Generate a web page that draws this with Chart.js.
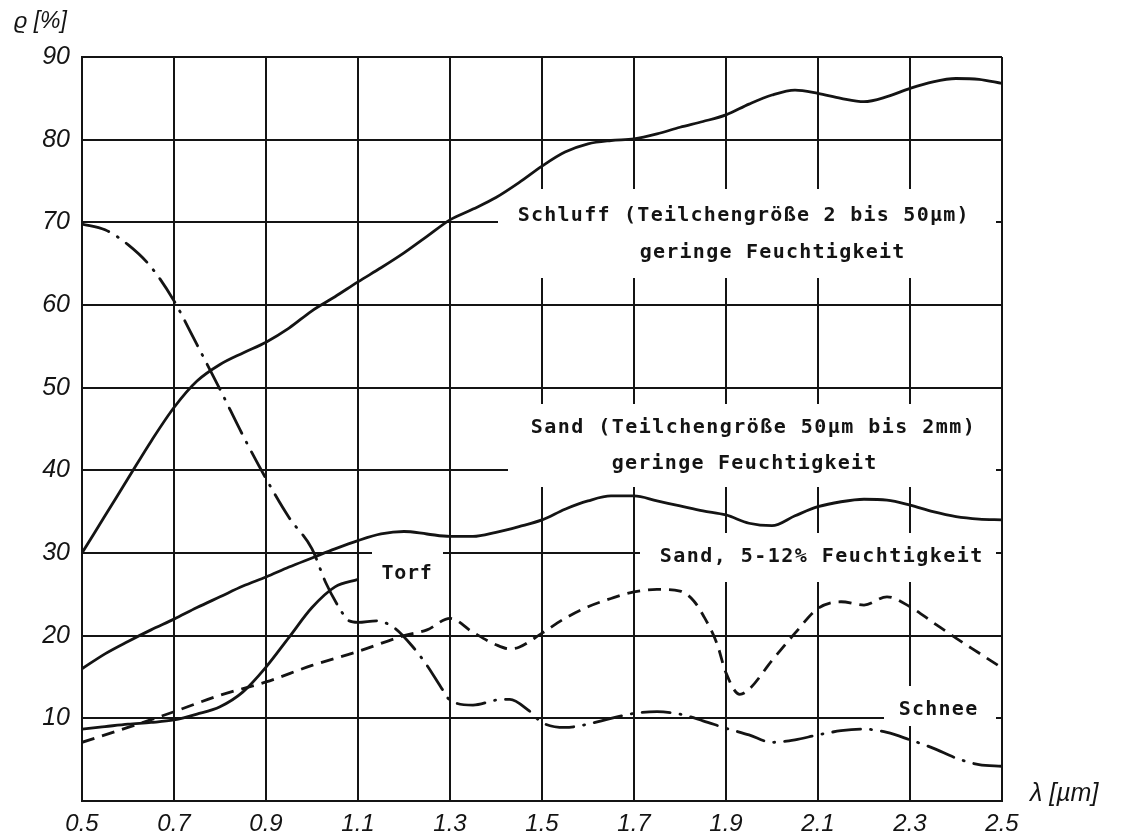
<!DOCTYPE html>
<html>
<head>
<meta charset="utf-8">
<script src="https://cdn.jsdelivr.net/npm/chart.js@4/dist/chart.umd.min.js"></script>
<style>
  html, body { margin: 0; padding: 0; background: #fff; }
  #wrap { width: 1133px; height: 838px; }
</style>
</head>
<body>
<div id="wrap"><canvas id="myChart" width="1133" height="838"></canvas></div>
<script>
// Achsen
const xTicks = [0.5, 0.7, 0.9, 1.1, 1.3, 1.5, 1.7, 1.9, 2.1, 2.3, 2.5];
const yTicks = [0, 10, 20, 30, 40, 50, 60, 70, 80, 90];

// Schluff (Teilchengröße 2 bis 50µm), geringe Feuchtigkeit
const schluffX = [0.5, 0.55, 0.6, 0.65, 0.7, 0.75, 0.8, 0.85, 0.9, 0.95, 1.0, 1.05, 1.1, 1.15, 1.2, 1.25, 1.3, 1.35, 1.4, 1.45, 1.5, 1.55, 1.6, 1.65, 1.7, 1.75, 1.8, 1.85, 1.9, 1.95, 2.0, 2.05, 2.1, 2.15, 2.2, 2.25, 2.3, 2.35, 2.4, 2.45, 2.5];
const schluffY = [30, 34.5, 39, 43.5, 47.6, 50.8, 52.8, 54.2, 55.5, 57.2, 59.3, 61, 62.8, 64.5, 66.3, 68.3, 70.3, 71.6, 73, 74.8, 76.8, 78.5, 79.5, 79.9, 80.1, 80.7, 81.5, 82.2, 83, 84.3, 85.4, 86, 85.6, 85, 84.6, 85.2, 86.2, 87, 87.4, 87.3, 86.8];

// Sand (Teilchengröße 50µm bis 2mm), geringe Feuchtigkeit
const sandX = schluffX;
const sandY = [16, 17.8, 19.3, 20.7, 22, 23.4, 24.7, 26, 27.1, 28.3, 29.4, 30.5, 31.5, 32.3, 32.6, 32.3, 32, 32, 32.5, 33.2, 34, 35.3, 36.3, 36.9, 36.9, 36.3, 35.7, 35.1, 34.6, 33.6, 33.3, 34.5, 35.6, 36.2, 36.5, 36.4, 35.8, 35, 34.4, 34.1, 34];

// Torf
const torfX = [0.5, 0.55, 0.6, 0.65, 0.7, 0.75, 0.8, 0.85, 0.9, 0.95, 1.0, 1.05, 1.1];
const torfY = [8.7, 9.0, 9.3, 9.5, 9.8, 10.5, 11.4, 13.2, 16.2, 19.8, 23.4, 25.9, 26.8];

// Sand, 5-12% Feuchtigkeit
const sandNassX = [0.5, 0.6, 0.7, 0.8, 0.9, 1.0, 1.1, 1.2, 1.25, 1.3, 1.35, 1.4, 1.43, 1.45, 1.5, 1.55, 1.6, 1.65, 1.7, 1.75, 1.8, 1.83, 1.85, 1.88, 1.9, 1.93, 1.95, 2.0, 2.05, 2.1, 2.15, 2.2, 2.25, 2.3, 2.35, 2.4, 2.45, 2.5];
const sandNassY = [7.1, 8.9, 10.8, 12.8, 14.4, 16.4, 18.1, 20.0, 20.7, 22.1, 20.4, 18.9, 18.4, 18.6, 20.3, 22.1, 23.5, 24.5, 25.3, 25.6, 25.4, 24.2, 22.5, 19.1, 15.5, 12.9, 13.5, 17.0, 20.3, 23.3, 24.1, 23.7, 24.7, 23.5, 21.6, 19.7, 17.9, 16.1];

// Schnee
const schneeX = [0.5, 0.55, 0.6, 0.65, 0.7, 0.75, 0.8, 0.85, 0.9, 0.95, 1.0, 1.03, 1.06, 1.08, 1.1, 1.14, 1.18, 1.22, 1.25, 1.28, 1.3, 1.35, 1.4, 1.43, 1.47, 1.5, 1.55, 1.6, 1.65, 1.7, 1.75, 1.8, 1.85, 1.9, 1.95, 2.0, 2.05, 2.1, 2.15, 2.2, 2.25, 2.3, 2.35, 2.4, 2.45, 2.5];
const schneeY = [69.8, 69.1, 67.3, 64.6, 60.5, 55.2, 49.8, 44.2, 39.0, 34.3, 30.5, 26.4, 23.3, 21.8, 21.6, 21.8, 20.9, 18.6, 16.4, 13.8, 12.2, 11.6, 12.2, 12.3, 11.0, 9.5, 8.9, 9.3, 10.0, 10.6, 10.8, 10.5, 9.7, 8.8, 8.0, 7.1, 7.4, 8.0, 8.5, 8.7, 8.3, 7.4, 6.4, 5.2, 4.4, 4.2];

// Beschriftungen
const textSchluff = ['Schluff (Teilchengröße 2 bis 50µm)', 'geringe Feuchtigkeit'];
const textSand = ['Sand (Teilchengröße 50µm bis 2mm)', 'geringe Feuchtigkeit'];
const textSandNass = 'Sand, 5-12% Feuchtigkeit';
const textTorf = 'Torf';
const textSchnee = 'Schnee';
const yTitle = 'ϱ [%]';
const xTitle = 'λ [µm]';

const ink = '#141414';

function pts(xs, ys) {
    return xs.map((x, i) => ({ x: x, y: ys[i] }));
}

// Schreibmaschinenschrift: jedes Zeichen in fester Breite
function typeText(ctx, str, left, midY, pitch) {
    for (let i = 0; i < str.length; i++) {
        ctx.fillText(str[i], left + (i + 0.5) * pitch, midY);
    }
}

const labelPlugin = {
    id: 'labels',
    beforeDatasetsDraw(chart) {
        const ctx = chart.ctx;
        ctx.save();
        // weiße Felder, die das Gitter unterbrechen
        ctx.fillStyle = '#fff';
        ctx.fillRect(498, 189, 498, 89);
        ctx.fillRect(508, 404, 488, 83);
        ctx.fillRect(640, 533, 356, 49);
        ctx.fillRect(372, 550, 71, 48);
        ctx.fillRect(884, 686, 112, 40);

        ctx.fillStyle = ink;
        ctx.font = 'bold 20px "DejaVu Sans Mono"';
        ctx.textAlign = 'center';
        ctx.textBaseline = 'middle';
        const p = 13.3;
        typeText(ctx, textSchluff[0], 517, 216, p);
        typeText(ctx, textSchluff[1], 639, 253, p);
        typeText(ctx, textSand[0], 530, 428, 13.5);
        typeText(ctx, textSand[1], 611, 464, p);
        typeText(ctx, textSandNass, 659, 557, 13.5);
        typeText(ctx, textTorf, 381, 574, 12.8);
        typeText(ctx, textSchnee, 898, 710, 13.3);

        // Achsentitel
        ctx.textAlign = 'left';
        ctx.font = 'italic 23px "Liberation Sans"';
        ctx.fillText(yTitle, 14, 22);
        ctx.font = 'italic 25px "Liberation Sans"';
        ctx.fillText(xTitle, 1030, 794);
        ctx.restore();
    }
};

const ctx1 = document.getElementById('myChart');

const lineBase = {
    borderColor: ink,
    borderWidth: 2.8,
    pointRadius: 0,
    fill: false,
    cubicInterpolationMode: 'monotone'
};

new Chart(ctx1, {
    type: 'line',
    data: {
        datasets: [
            Object.assign({ label: 'Schluff', data: pts(schluffX, schluffY) }, lineBase),
            Object.assign({ label: 'Sand', data: pts(sandX, sandY) }, lineBase),
            Object.assign({ label: 'Torf', data: pts(torfX, torfY) }, lineBase),
            Object.assign({ label: 'Sand 5-12%', data: pts(sandNassX, sandNassY), borderDash: [13, 8] }, lineBase),
            Object.assign({ label: 'Schnee', data: pts(schneeX, schneeY), borderDash: [28, 10, 1, 10], borderCapStyle: 'round' }, lineBase)
        ]
    },
    options: {
        responsive: false,
        animation: false,
        layout: { padding: { top: 57, right: 131, left: 0, bottom: 0 } },
        plugins: {
            legend: { display: false },
            tooltip: { enabled: false }
        },
        scales: {
            x: {
                type: 'linear',
                min: 0.5,
                max: 2.5,
                afterFit: s => { s.height = 37; },
                afterBuildTicks: s => { s.ticks = xTicks.map(v => ({ value: v })); },
                grid: { color: ink, lineWidth: 2, drawTicks: false },
                border: { color: ink, width: 2 },
                ticks: {
                    padding: 9,
                    color: ink,
                    font: { family: 'Liberation Sans', style: 'italic', size: 24 },
                    callback: v => v.toFixed(1)
                }
            },
            y: {
                min: 0,
                max: 90,
                afterFit: s => { s.width = 82; },
                afterBuildTicks: s => { s.ticks = yTicks.map(v => ({ value: v })); },
                grid: { color: ink, lineWidth: 2, drawTicks: false },
                border: { color: ink, width: 2 },
                ticks: {
                    padding: 12,
                    color: ink,
                    font: { family: 'Liberation Sans', style: 'italic', size: 25 },
                    callback: v => (v === 0 ? '' : String(v))
                }
            }
        }
    },
    plugins: [labelPlugin]
});
</script>
</body>
</html>
